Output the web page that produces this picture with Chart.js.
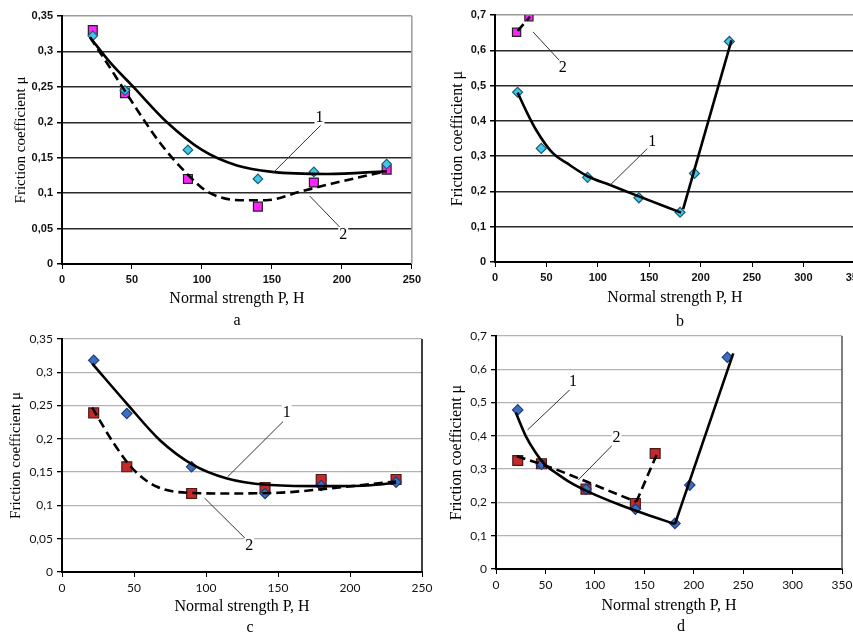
<!DOCTYPE html>
<html>
<head>
<meta charset="utf-8">
<script src="https://cdn.jsdelivr.net/npm/chart.js@4.4.1/dist/chart.umd.min.js"></script>
<style>
  html, body { margin: 0; padding: 0; width: 853px; height: 633px; overflow: hidden; background: #fff; }
  canvas { position: absolute; }
  .cap { position: absolute; font: 16px "Liberation Serif", serif; color: #000; transform: translate(-50%, -50%); }
</style>
</head>
<body>
<canvas id="chartA" width="425" height="315" style="left:0;top:0"></canvas>
<canvas id="chartB" width="448" height="315" style="left:420px;top:0"></canvas>
<canvas id="chartC" width="440" height="315" style="left:0;top:320px"></canvas>
<canvas id="chartD" width="440" height="313" style="left:420px;top:320px"></canvas>
<div class="cap" style="left:237px;top:320px">a</div>
<div class="cap" style="left:680px;top:321px">b</div>
<div class="cap" style="left:250px;top:627px">c</div>
<div class="cap" style="left:681px;top:626px">d</div>
<script>
// panel a
const aLoad = [22, 45, 90, 140, 180, 232];
const aMu1 = [0.322, 0.245, 0.161, 0.12, 0.13, 0.141];
const aMu2 = [0.33, 0.241, 0.12, 0.081, 0.115, 0.133];
const aFit1X = [20, 35, 50, 75, 100, 125, 150, 190, 232];
const aFit1Y = [0.32, 0.283, 0.252, 0.2, 0.161, 0.139, 0.13, 0.127, 0.131];
const aFit2X = [20, 34, 46, 70, 89, 104, 127, 146, 170, 194, 232];
const aFit2Y = [0.32, 0.278, 0.241, 0.171, 0.128, 0.102, 0.09, 0.09, 0.102, 0.114, 0.131];

// panel b
const bLoad1 = [22, 45, 90, 140, 180, 194, 228];
const bMu1 = [0.481, 0.322, 0.24, 0.182, 0.141, 0.251, 0.625];
const bLoad2 = [21, 33];
const bMu2 = [0.651, 0.695];
const bFit1X = [22, 30, 40, 56, 70, 90, 112, 140, 181];
const bFit1Y = [0.48, 0.43, 0.374, 0.309, 0.28, 0.243, 0.218, 0.186, 0.14];
const bRiseX = [183, 230];
const bRiseY = [0.15, 0.628];
const bFit2X = [22, 34];
const bFit2Y = [0.655, 0.695];

// panel c
const cLoad = [22, 45, 90, 141, 180, 232];
const cMu1 = [0.318, 0.238, 0.158, 0.118, 0.13, 0.135];
const cMu2 = [0.239, 0.158, 0.118, 0.127, 0.139, 0.139];
const cFit1X = [21, 45, 68, 91, 114, 142, 177, 212, 232];
const cFit1Y = [0.313, 0.253, 0.198, 0.161, 0.141, 0.131, 0.129, 0.13, 0.134];
const cFit2X = [21, 36, 50, 66, 87, 115, 150, 188, 232];
const cFit2Y = [0.247, 0.193, 0.153, 0.128, 0.119, 0.118, 0.119, 0.126, 0.136];

// panel d
const dLoad1 = [22, 46, 91, 141, 181, 196, 234];
const dMu1 = [0.478, 0.315, 0.24, 0.18, 0.137, 0.252, 0.636];
const dLoad2 = [22, 46, 91, 141, 161];
const dMu2 = [0.326, 0.316, 0.24, 0.197, 0.347];
const dFit1X = [20, 30, 40, 50, 60, 75, 92, 125, 159, 181];
const dFit1Y = [0.47, 0.4, 0.35, 0.312, 0.29, 0.26, 0.234, 0.193, 0.157, 0.135];
const dRiseX = [181, 240];
const dRiseY = [0.135, 0.648];
const dFit2X = [21, 58, 92, 125, 142];
const dFit2Y = [0.339, 0.302, 0.262, 0.222, 0.202];
const dJumpX = [142, 163];
const dJumpY = [0.202, 0.347];

const pts = (xs, ys) => xs.map((x, i) => ({ x: x, y: ys[i] }));
const yFmt = v => String(Math.round(v * 100) / 100).replace('.', ',');

function markers(xs, ys, style, fill, edge, r) {
  return {
    data: pts(xs, ys), showLine: false, order: 2,
    pointStyle: style, pointRadius: r, pointBackgroundColor: fill,
    pointBorderColor: edge, pointBorderWidth: 1.2
  };
}

function curve(xs, ys, dashed, smooth) {
  return {
    data: pts(xs, ys), showLine: true, order: 1, pointRadius: 0,
    borderColor: '#000', borderWidth: 2.6,
    borderDash: dashed ? [9, 5] : [],
    cubicInterpolationMode: smooth ? 'monotone' : 'default', tension: 0
  };
}

// callout numbers with leader lines + optional right frame
function extras(notes, frameColor) {
  return {
    id: 'extras',
    beforeDatasetsDraw(chart) {
      if (!frameColor) return;
      const a = chart.chartArea, c = chart.ctx;
      c.save();
      c.strokeStyle = frameColor;
      c.lineWidth = 1.5;
      c.beginPath();
      c.moveTo(a.right, a.top);
      c.lineTo(a.right, a.bottom);
      c.stroke();
      c.restore();
    },
    afterDatasetsDraw(chart) {
      const sx = chart.scales.x, sy = chart.scales.y, c = chart.ctx;
      c.save();
      notes.forEach(n => {
        c.strokeStyle = '#333';
        c.lineWidth = 1;
        c.beginPath();
        c.moveTo(sx.getPixelForValue(n.from[0]), sy.getPixelForValue(n.from[1]));
        c.lineTo(sx.getPixelForValue(n.to[0]), sy.getPixelForValue(n.to[1]));
        c.stroke();
        const px = sx.getPixelForValue(n.at[0]), py = sy.getPixelForValue(n.at[1]);
        c.fillStyle = '#fff';
        c.fillRect(px - 5, py - 8, 10, 16);
        c.fillStyle = '#000';
        c.font = '16px "Liberation Serif"';
        c.textAlign = 'center';
        c.textBaseline = 'middle';
        c.fillText(n.label, px, py);
      });
      c.restore();
    }
  };
}

function makeChart(id, p) {
  return new Chart(document.getElementById(id), {
    type: 'scatter',
    data: { datasets: p.datasets },
    options: {
      responsive: false,
      animation: false,
      layout: { padding: { top: p.top, right: p.right, left: 0, bottom: 0 } },
      plugins: { legend: { display: false }, tooltip: { enabled: false } },
      scales: {
        x: {
          type: 'linear', min: 0, max: p.xMax,
          afterFit: s => { s.height = p.xh; },
          ticks: { stepSize: 50, font: p.tickFont, color: '#111', padding: 4, maxRotation: 0 },
          grid: { drawOnChartArea: false, drawTicks: true, tickLength: 5, color: '#000', lineWidth: 1 },
          border: { color: '#000', width: 2 },
          title: {
            display: true, text: 'Normal strength P, H', color: '#000',
            font: { family: 'Liberation Serif', size: 16 },
            padding: { top: 0, bottom: p.xTitlePad }
          }
        },
        y: {
          type: 'linear', min: 0, max: p.yMax,
          afterFit: s => { s.width = p.yw; },
          ticks: { stepSize: p.yStep, callback: yFmt, font: p.tickFont, color: '#111', padding: 4 },
          grid: {
            color: ctx => (ctx.tick && ctx.tick.value > p.yMax - 1e-6) ? p.topColor : p.gridColor,
            lineWidth: p.gridWidth, tickLength: 5, tickColor: '#000'
          },
          border: { color: '#000', width: 2 },
          title: {
            display: true, text: 'Friction coefficient μ', color: '#000',
            font: { family: 'Liberation Serif', size: p.yTitleSize },
            padding: { top: p.yTitlePad, bottom: 0 }
          }
        }
      }
    },
    plugins: [extras(p.notes, p.frameColor)]
  });
}

const boldTicks = { family: 'Liberation Sans', size: 11, weight: 'bold' };
const plainTicks = { family: 'Lato', size: 12 };

makeChart('chartA', {
  xMax: 250, yMax: 0.35, yStep: 0.05,
  top: 16, right: 13, yw: 62, xh: 51, xTitlePad: 7, yTitlePad: 12, yTitleSize: 15,
  tickFont: boldTicks, gridColor: '#2a2a2a', topColor: '#9a9a9a', gridWidth: 1.5, frameColor: '#9a9a9a',
  datasets: [
    curve(aFit1X, aFit1Y, false, true),
    curve(aFit2X, aFit2Y, true, true),
    markers(aLoad, aMu1, 'rectRot', '#3fc8ee', '#1d5d72', 4.8),
    markers(aLoad, aMu2, 'rect', '#ff22ff', '#222', 6.3)
  ],
  notes: [
    { label: '1', at: [184, 0.207], from: [185, 0.196], to: [151, 0.129] },
    { label: '2', at: [201, 0.041], from: [198.5, 0.052], to: [177, 0.096] }
  ]
});

makeChart('chartB', {
  xMax: 350, yMax: 0.7, yStep: 0.1,
  top: 15, right: 12.5, yw: 75, xh: 53, xTitlePad: 8, yTitlePad: 28, yTitleSize: 16,
  tickFont: boldTicks, gridColor: '#2a2a2a', topColor: '#9a9a9a', gridWidth: 1.5, frameColor: null,
  datasets: [
    curve(bFit1X, bFit1Y, false, true),
    curve(bRiseX, bRiseY, false, false),
    curve(bFit2X, bFit2Y, true, false),
    markers(bLoad1, bMu1, 'rectRot', '#3fc8ee', '#1d5d72', 5),
    markers(bLoad2, bMu2, 'rect', '#ff22ff', '#222', 5.8)
  ],
  notes: [
    { label: '2', at: [66, 0.549], from: [64, 0.567], to: [37, 0.652] },
    { label: '1', at: [153, 0.34], from: [150.5, 0.328], to: [112, 0.218] }
  ]
});

makeChart('chartC', {
  xMax: 250, yMax: 0.35, yStep: 0.05,
  top: 19, right: 18, yw: 62, xh: 63, xTitlePad: 19, yTitlePad: 7, yTitleSize: 15,
  tickFont: plainTicks, gridColor: '#b3b3b3', topColor: '#b3b3b3', gridWidth: 1.3, frameColor: '#000',
  datasets: [
    curve(cFit1X, cFit1Y, false, true),
    curve(cFit2X, cFit2Y, true, true),
    markers(cLoad, cMu1, 'rectRot', '#3b6fc4', '#1f3c78', 5.2),
    markers(cLoad, cMu2, 'rect', '#c8282a', '#4a1a1a', 7)
  ],
  notes: [
    { label: '1', at: [156, 0.239], from: [153.5, 0.226], to: [115, 0.143] },
    { label: '2', at: [130, 0.039], from: [127, 0.051], to: [99, 0.111] }
  ]
});

makeChart('chartD', {
  xMax: 350, yMax: 0.7, yStep: 0.1,
  top: 16, right: 18, yw: 76, xh: 64, xTitlePad: 18, yTitlePad: 27, yTitleSize: 16,
  tickFont: plainTicks, gridColor: '#b3b3b3', topColor: '#b3b3b3', gridWidth: 1.3, frameColor: '#555',
  datasets: [
    curve(dFit1X, dFit1Y, false, true),
    curve(dRiseX, dRiseY, false, false),
    curve(dFit2X, dFit2Y, true, true),
    curve(dJumpX, dJumpY, true, false),
    markers(dLoad1, dMu1, 'rectRot', '#3b6fc4', '#1f3c78', 5.2),
    markers(dLoad2, dMu2, 'rect', '#c8282a', '#4a1a1a', 7)
  ],
  notes: [
    { label: '1', at: [78, 0.562], from: [77, 0.545], to: [32, 0.418] },
    { label: '2', at: [122, 0.393], from: [120, 0.379], to: [83, 0.267] }
  ]
});
</script>
</body>
</html>
